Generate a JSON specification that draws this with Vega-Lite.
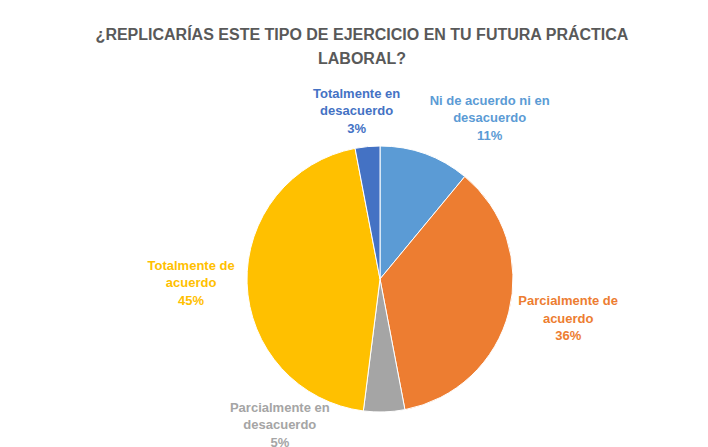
{
  "$schema": "https://vega.github.io/schema/vega-lite/v6.json",
  "autosize": {"type": "none"},
  "padding": {"left": 6, "top": 9, "right": 0, "bottom": 0},
  "width": 748,
  "height": 540,
  "background": "white",
  "config": {
    "view": {"stroke": "#d9d9d9", "strokeWidth": 1.5},
    "font": "Liberation Sans"
  },
  "title": {
    "text": ["¿REPLICARÍAS ESTE TIPO DE EJERCICIO EN TU FUTURA PRÁCTICA", "LABORAL?"],
    "fontSize": 16,
    "fontWeight": "bold",
    "color": "#595959",
    "font": "Liberation Sans",
    "anchor": "middle",
    "lineHeight": 24,
    "offset": 0,
    "dx": -18,
    "dy": 58
  },
  "data": {
    "values": [
      {"category": "Ni de acuerdo ni en desacuerdo", "label": "Ni de acuerdo ni en|desacuerdo", "value": 11, "order": 1},
      {"category": "Parcialmente de acuerdo", "label": "Parcialmente de|acuerdo", "value": 36, "order": 2},
      {"category": "Parcialmente en desacuerdo", "label": "Parcialmente en|desacuerdo", "value": 5, "order": 3},
      {"category": "Totalmente de acuerdo", "label": "Totalmente de|acuerdo", "value": 45, "order": 4},
      {"category": "Totalmente en desacuerdo", "label": "Totalmente en|desacuerdo", "value": 3, "order": 5}
    ]
  },
  "transform": [
    {"calculate": "datum.label + '|' + datum.value + '%'", "as": "text"}
  ],
  "encoding": {
    "theta": {"field": "value", "type": "quantitative", "stack": true},
    "order": {"field": "order", "type": "quantitative"},
    "color": {
      "field": "category",
      "type": "nominal",
      "legend": null,
      "scale": {
        "domain": ["Ni de acuerdo ni en desacuerdo", "Parcialmente de acuerdo", "Parcialmente en desacuerdo", "Totalmente de acuerdo", "Totalmente en desacuerdo"],
        "range": ["#5B9BD5", "#ED7D31", "#A5A5A5", "#FFC000", "#4472C4"]
      }
    }
  },
  "layer": [
    {
      "mark": {"type": "arc", "outerRadius": 133, "stroke": "white", "strokeWidth": 1}
    },
    {
      "mark": {
        "type": "text",
        "radius": 185,
        "fontSize": 13,
        "fontWeight": "bold",
        "lineBreak": "|",
        "lineHeight": 17.5,
        "align": "center",
        "baseline": "middle",
        "dx": {"expr": "datum.order == 1 ? 47 : datum.order == 2 ? 9 : datum.order == 3 ? -106 : datum.order == 4 ? -4 : -6"},
        "dy": {"expr": "datum.order == 1 ? -4 : datum.order == 2 ? -24 : datum.order == 3 ? -56 : datum.order == 4 ? -19 : -1"}
      },
      "encoding": {
        "text": {"field": "text", "type": "nominal"}
      }
    }
  ]
}
